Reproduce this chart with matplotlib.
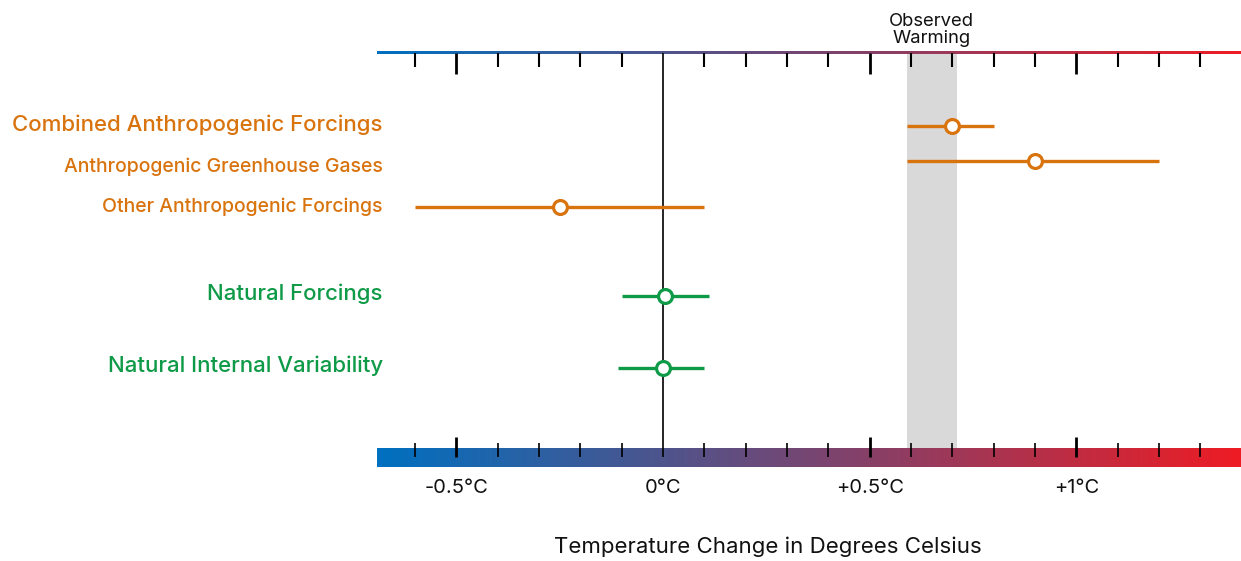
import numpy as np
import matplotlib.pyplot as plt
from matplotlib.colors import LinearSegmentedColormap
from matplotlib.patches import Rectangle

plt.rcParams['font.family'] = ['Inter', 'DejaVu Sans']

# ── data ─────────────────────────────────────
labels = ["Combined Anthropogenic Forcings",
          "Anthropogenic Greenhouse Gases",
          "Other Anthropogenic Forcings",
          "Natural Forcings",
          "Natural Internal Variability"]
best = [0.70, 0.90, -0.25, 0.005, 0.0]
low = [0.59, 0.59, -0.60, -0.10, -0.11]
high = [0.80, 1.20, 0.10, 0.11, 0.10]
groups = ["anthro", "anthro", "anthro", "natural", "natural"]
observed_lo, observed_hi = 0.59, 0.71
major_ticks = [-0.5, 0.0, 0.5, 1.0]
major_labels = ["-0.5°C", "0°C", "+0.5°C", "+1°C"]
minor_ticks = np.round(np.arange(-0.6, 1.31, 0.1), 1)

# ── layout (pixel rows, inverted y) ──────────
row_y = [126, 161, 207, 296, 368]
label_base = [131, 172, 212, 300, 372]
label_size = [16, 14, 14, 16, 16]
group_color = {"anthro": "#D9730D", "natural": "#0E9A47"}
xmin, xmax = -0.692, 1.398
top_y, bar_top, bar_bot = 52.5, 448, 467

cmap = LinearSegmentedColormap.from_list("temp", ["#0070C0", "#ED1C24"])

fig = plt.figure(figsize=(12.41, 5.61), dpi=100)
ax = fig.add_axes([377 / 1241, 0, 864 / 1241, 1])

# observed warming band
ax.add_patch(Rectangle((observed_lo, top_y), observed_hi - observed_lo,
                       bar_top - top_y, facecolor='#D9D9D9', edgecolor='none', zorder=0))
ax.text((observed_lo + observed_hi) / 2, 30, "Observed\nWarming", ha='center', va='center',
        fontsize=13.3, linespacing=0.95, color='#111111')

# gradient strips (top line + bottom bar)
grad = np.linspace(0, 1, 512).reshape(1, -1)
ax.imshow(grad, cmap=cmap, aspect='auto', extent=[xmin, xmax, top_y + 1.5, top_y - 1.5], zorder=1)
ax.imshow(grad, cmap=cmap, aspect='auto', extent=[xmin, xmax, bar_bot, bar_top], zorder=1)
ax.set_xlim(xmin, xmax)
ax.set_ylim(561, 0)
ax.axis('off')

# ticks
for t in minor_ticks:
    if t == 0:
        continue
    major = any(abs(t - m) < 1e-6 for m in major_ticks)
    ax.vlines(t, top_y, 74 if major else 67, color='black', lw=2 if major else 1.5, zorder=3)
    ax.vlines(t, 437 if major else 443, 457, color='black', lw=2 if major else 1.2, zorder=3)

# zero line
ax.vlines(0, top_y, 457, color='black', lw=1.2, zorder=2)

for t, lab in zip(major_ticks, major_labels):
    ax.text(t, 488, lab, ha='center', va='center', fontsize=14.5, color='#111111')

ax.text(0.253, 547, "Temperature Change in Degrees Celsius",
        ha='center', va='center', fontsize=16, color='#111111')

# error bars
for lab, b, lo, hi, g, y, yb, fs in zip(labels, best, low, high, groups, row_y,
                                         label_base, label_size):
    c = group_color[g]
    ax.hlines(y, lo, hi, color=c, lw=2.4, zorder=4)
    ax.plot(b, y, 'o', mfc='white', mec=c, ms=10, mew=2.3, zorder=5)
    ax.text(xmin + 0.014, yb, lab, ha='right', va='baseline', fontsize=fs,
            fontweight='medium', color=c, clip_on=False)

plt.savefig('out.png', dpi=100)
